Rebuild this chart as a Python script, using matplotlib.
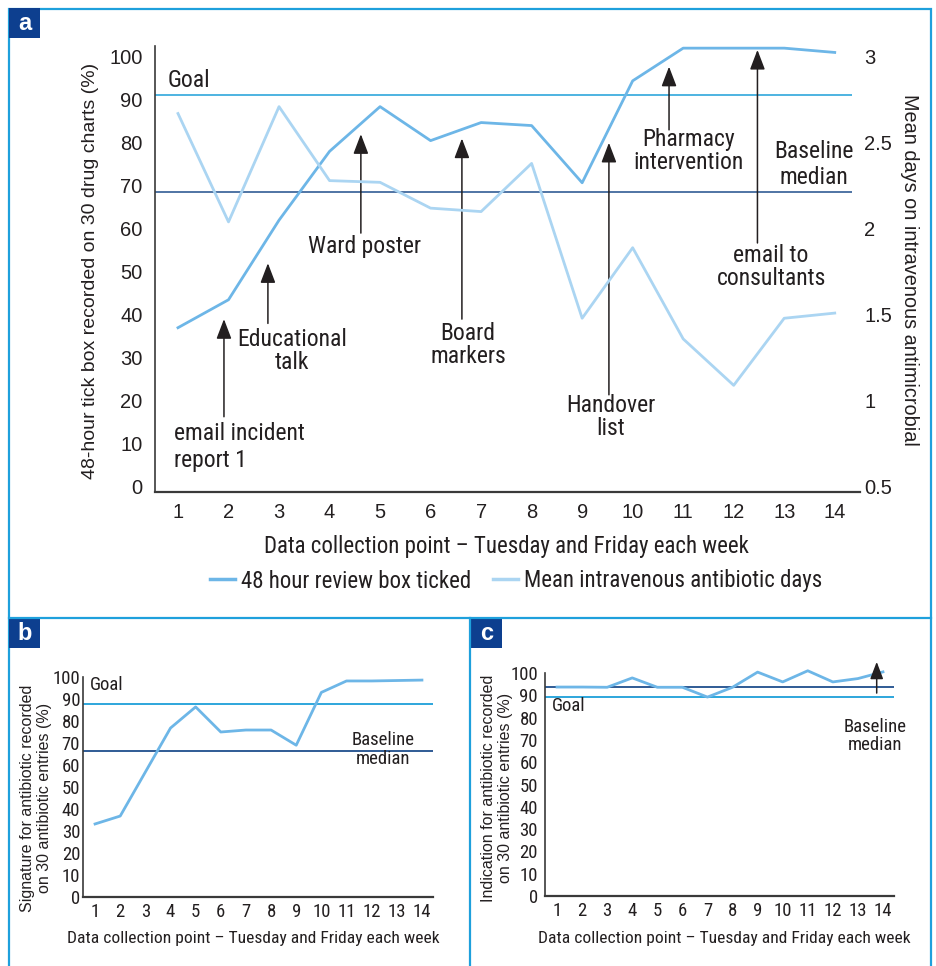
import matplotlib
matplotlib.use('Agg')
import matplotlib.pyplot as plt
from matplotlib import font_manager
from matplotlib.font_manager import FontProperties
from matplotlib.patches import Rectangle
from matplotlib.lines import Line2D

# data
points = list(range(1, 15))
review_ticked = [37, 43.5, 62, 78, 88.4, 80.5, 84.7, 84, 70.7, 94.4, 102, 102, 102, 101]
iv_days = [2.67, 2.04, 2.71, 2.28, 2.27, 2.12, 2.10, 2.38, 1.48, 1.89, 1.36, 1.09, 1.48, 1.51]
goal_a, median_a = 91, 68.5

signature = [33.2, 36.8, 56.8, 76.8, 86.4, 75, 75.9, 75.9, 69, 93, 98.2, 98.2, 98.4, 98.6]
goal_b, median_b = 87.7, 66.4

indication = [93.7, 93.7, 93.6, 97.8, 93.6, 93.6, 89.2, 93.6, 100.4, 96, 101, 96, 97.5, 100.5]
goal_c, median_c = 89.2, 93.7

left_ticks_a = [0, 10, 20, 30, 40, 50, 60, 70, 80, 90, 100]
right_ticks_a = [0.5, 1, 1.5, 2, 2.5, 3]
pct_ticks = [0, 10, 20, 30, 40, 50, 60, 70, 80, 90, 100]

xlabel = 'Data collection point \u2013 Tuesday and Friday each week'

# interventions: label, arrow x, tip, tail, text x, text y, alignment, line spacing
interventions = [
    ('email incident\nreport 1', 1.91, 39, 16.3, 0.92, 9.3, 'left', 1.25),
    ('Educational\ntalk', 2.78, 52, 38, 3.26, 31.6, 'center', 1.0),
    ('Ward poster', 4.62, 82, 59, 4.70, 55.8, 'center', 1.0),
    ('Board\nmarkers', 6.62, 81, 39, 6.74, 33, 'center', 1.0),
    ('Handover\nlist', 9.53, 80, 21.4, 9.57, 16.3, 'center', 1.0),
    ('Pharmacy\nintervention', 10.72, 97.7, 83, 11.10, 78, 'center', 1.0),
    ('email to\nconsultants', 12.47, 101.6, 56.7, 12.74, 51, 'center', 1.0),
]

W, H = 936, 966
FRAME = '#1ea0dc'
NAVY = '#0d3f8f'
DARK_LINE = '#6db6e7'
LIGHT_LINE = '#abd5f2'
GOAL = '#1c9fd9'
MEDIAN = '#1f4e8c'
TXT = '#231f20'
SPINE = '#3a3a3a'

REG = 'Liberation Sans'


def find_condensed():
    found = []
    for f in font_manager.fontManager.ttflist:
        key = (f.name + ' ' + f.fname).lower()
        if ('narrow' in key or 'condensed' in key) and f.style == 'normal' \
                and 'bold' not in key and 'light' not in key and 'italic' not in key:
            found.append(f.fname)
    for pref in ['liberationsansnarrow', 'liberation', 'robotocondensed', 'roboto', 'dejavu', '']:
        for p in found:
            if pref in p.lower().replace('-', '').replace('_', ''):
                return p
    return None


NAR_PATH = find_condensed()
NAR_SCALE = 1.0 if NAR_PATH else 0.84


def nar(size):
    if NAR_PATH:
        return FontProperties(fname=NAR_PATH, size=size * NAR_SCALE)
    return FontProperties(family=REG, size=size * NAR_SCALE)


def fx(x):
    return x / W


def fy(y):
    return 1 - y / H


def rect(x0, y0, x1, y1):
    return [fx(x0), fy(y1), (x1 - x0) / W, (y1 - y0) / H]


def style_axes(ax, tick_props, pad):
    for side in ['top', 'right']:
        ax.spines[side].set_visible(False)
    for side in ['left', 'bottom']:
        ax.spines[side].set_color(SPINE)
    ax.spines['left'].set_linewidth(1.2)
    ax.spines['bottom'].set_linewidth(1.6)
    ax.tick_params(length=0, colors=TXT, pad=pad)
    for lab in ax.get_xticklabels() + ax.get_yticklabels():
        lab.set_fontproperties(tick_props)
    ax.patch.set_visible(False)


def arrow(ax, x, tip, tail, scale=22):
    ax.annotate('', xy=(x, tip), xytext=(x, tail),
                arrowprops=dict(arrowstyle='-|>,head_length=0.55,head_width=0.21',
                                color=TXT, lw=1.1, shrinkA=0, shrinkB=0,
                                mutation_scale=scale),
                annotation_clip=False)


fig = plt.figure(figsize=(W / 100, H / 100), dpi=100)
fig.patch.set_facecolor('white')

# panel frames
fig.add_artist(Rectangle((fx(9), fy(990)), (931 - 9) / W, (990 - 9) / H, fill=False,
                         edgecolor=FRAME, lw=1.6, transform=fig.transFigure))
fig.add_artist(Line2D([fx(9), fx(931)], [fy(618), fy(618)], color=FRAME, lw=1.6))
fig.add_artist(Line2D([fx(470), fx(470)], [fy(618), fy(990)], color=FRAME, lw=1.6))
for letter, x0, y0 in [('a', 9, 8), ('b', 9, 618), ('c', 471, 618)]:
    fig.add_artist(Rectangle((fx(x0), fy(y0 + 30)), 31 / W, 30 / H, facecolor=NAVY,
                             edgecolor='none', transform=fig.transFigure))
    fig.text(fx(x0 + 15.5), fy(y0 + 16), letter, color='white', family=REG,
             weight='bold', fontsize=17, ha='center', va='center')

# ---- panel a ----
ylo, yhi = -1.2, 102.5
ax = fig.add_axes(rect(155, 46, 860, 492))
ax.plot(points, review_ticked, color=DARK_LINE, lw=2.0, clip_on=False, zorder=3)
ax.hlines(goal_a, 0.55, 14.35, color=GOAL, lw=1.1)
ax.hlines(median_a, 0.55, 14.35, color=MEDIAN, lw=1.1)
ax.set_xlim(0.545, 14.5)
ax.set_ylim(ylo, yhi)
ax.set_xticks(points)
ax.set_yticks(left_ticks_a)
style_axes(ax, FontProperties(family=REG, size=14.5), 8)
ax.tick_params(axis='y', pad=9)

ax2 = ax.twinx()
ax2.plot(points, iv_days, color=LIGHT_LINE, lw=2.0, clip_on=False, zorder=2)
ax2.set_ylim(0.5 + 0.025 * ylo, 0.5 + 0.025 * yhi)
ax2.set_yticks(right_ticks_a)
ax2.set_yticklabels(['0.5', '1', '1.5', '2', '2.5', '3'])
for side in ['top', 'right', 'left', 'bottom']:
    ax2.spines[side].set_visible(False)
ax2.tick_params(length=0, colors=TXT, pad=3)
for lab in ax2.get_yticklabels():
    lab.set_fontproperties(FontProperties(family=REG, size=14.5))

for text, x, tip, tail, tx, ty, ha, ls in interventions:
    arrow(ax, x, tip, tail)
    ax.text(tx, ty, text, ha=ha, va='center', fontproperties=nar(17), color=TXT,
            linespacing=ls, multialignment=ha)
ax.text(0.8, 94.4, 'Goal', ha='left', va='center', fontproperties=nar(17), color=TXT)
ax.text(13.59, 75, 'Baseline\nmedian', ha='center', va='center', fontproperties=nar(17),
        color=TXT, linespacing=1.15)

fig.text(fx(91), fy(271), '48-hour tick box recorded on 30 drug charts (%)',
         rotation=90, ha='center', va='center', fontsize=14, family=REG, color=TXT)
fig.text(fx(910), fy(270), 'Mean days on intravenous antimicrobial',
         rotation=270, ha='center', va='center', fontsize=14.3, family=REG, color=TXT)
fig.text(fx(506), fy(547), xlabel, ha='center', va='center', fontproperties=nar(16.5),
         color=TXT)

handles = [Line2D([], [], color=DARK_LINE, lw=2.5), Line2D([], [], color=LIGHT_LINE, lw=2.5)]
leg = fig.legend(handles, ['48 hour review box ticked', 'Mean intravenous antibiotic days'],
                 loc='center', bbox_to_anchor=(fx(516), fy(581)), ncol=2, frameon=False,
                 handlelength=1.1, handletextpad=0.25, columnspacing=0.95,
                 prop=nar(16.5))
for t in leg.get_texts():
    t.set_color(TXT)

# ---- panel b ----
bx = fig.add_axes(rect(83, 677, 433, 897))
bx.plot(points, signature, color=DARK_LINE, lw=2.0, clip_on=False, zorder=3)
bx.axhline(goal_b, color=GOAL, lw=1.3)
bx.axhline(median_b, color=MEDIAN, lw=1.3)
bx.set_xlim(0.52, 14.44)
bx.set_ylim(0, 100)
bx.set_xticks(points)
bx.set_yticks(pct_ticks)
style_axes(bx, nar(13.5), 4)
bx.tick_params(axis='y', pad=2)
bx.text(0.8, 96.4, 'Goal', ha='left', va='center', fontproperties=nar(13.5), color=TXT)
bx.text(12.45, 67, 'Baseline\nmedian', ha='center', va='center', fontproperties=nar(13.5),
        color=TXT, linespacing=1.05)
fig.text(fx(36), fy(798), 'Signature for antibiotic recorded\non 30 antibiotic entries (%)',
         rotation=90, ha='center', va='center', fontsize=11.5, family=REG, color=TXT,
         linespacing=1.15)
fig.text(fx(253), fy(938), xlabel, ha='center', va='center', fontproperties=nar(12.6),
         color=TXT)

# ---- panel c ----
cx = fig.add_axes(rect(545, 673, 894, 896))
cx.plot(points, indication, color=DARK_LINE, lw=2.0, clip_on=False, zorder=3)
cx.axhline(median_c, color=MEDIAN, lw=1.3)
cx.axhline(goal_c, color=GOAL, lw=1.3)
cx.set_xlim(0.52, 14.44)
cx.set_ylim(0, 100)
cx.set_xticks(points)
cx.set_yticks(pct_ticks)
style_axes(cx, nar(13.5), 4)
cx.tick_params(axis='y', pad=5)
arrow(cx, 13.75, 105, 91, scale=19)
cx.text(0.8, 85, 'Goal', ha='left', va='center', fontproperties=nar(13.5), color=TXT)
cx.text(13.7, 71.7, 'Baseline\nmedian', ha='center', va='center', fontproperties=nar(13.5),
        color=TXT, linespacing=1.05)
fig.text(fx(497), fy(788), 'Indication for antibiotic recorded\non 30 antibiotic entries (%)',
         rotation=90, ha='center', va='center', fontsize=11.5, family=REG, color=TXT,
         linespacing=1.15)
fig.text(fx(724), fy(938), xlabel, ha='center', va='center', fontproperties=nar(12.6),
         color=TXT)

fig.savefig('out.png', dpi=100)
